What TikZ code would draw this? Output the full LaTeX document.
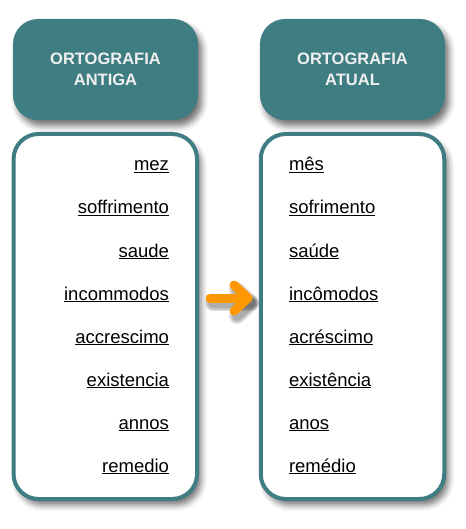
\documentclass[tikz,border=0pt]{standalone}
\usepackage{fontspec}
\setmainfont{Liberation Sans}
\usetikzlibrary{positioning,shadows.blur}
\definecolor{tealbox}{RGB}{62,125,130}
\definecolor{headtext}{RGB}{240,240,240}
\definecolor{arroworange}{RGB}{255,152,0}
\tikzstyle{header} = [rectangle, rounded corners=25pt, fill=tealbox, text=headtext, minimum width=185pt, minimum height=101pt, align=center, font=\fontsize{16.5}{21}\selectfont\bfseries, blur shadow={shadow xshift=4pt, shadow yshift=-6pt, shadow blur radius=6pt, shadow opacity=55}]
\tikzstyle{wordbox} = [rectangle, rounded corners=25pt, draw=tealbox, line width=4pt, fill=white, minimum width=183.5pt, minimum height=365pt, blur shadow={shadow xshift=4pt, shadow yshift=-6pt, shadow blur radius=6pt, shadow opacity=55}]
\tikzstyle{oldword} = [text width=130pt, align=right, inner sep=0pt, text height=14pt, text depth=4pt, font=\fontsize{18.5}{22}\selectfont, node distance=43pt]
\tikzstyle{newword} = [text width=130pt, align=left, inner sep=0pt, text height=14pt, text depth=4pt, font=\fontsize{18.5}{22}\selectfont, node distance=43pt]
\tikzstyle{bigarrow} = [draw, line width=9pt, color=arroworange, line cap=round, line join=round]
\tikzstyle{arrowshade} = [draw, line cap=round, line join=round, color=black, opacity=0.12]

\begin{document}
\begin{tikzpicture}[x=1pt, y=-1pt]
  \useasboundingbox (0,0) rectangle (465,529);

  \node[header] (oldhead) at (105.5,69.5) {ORTOGRAFIA\\ANTIGA};
  \node[header] (newhead) at (352.5,69.5) {ORTOGRAFIA\\ATUAL};

  \node[wordbox] (oldbox) at (105.3,316.5) {};
  \node[wordbox] (newbox) at (352.5,316.5) {};

  % old spelling
  \node[oldword] (old1) at (104,166) {\underline{mez}};
  \node[oldword, below of=old1] (old2) {\underline{soffrimento}};
  \node[oldword, below of=old2] (old3) {\underline{saude}};
  \node[oldword, below of=old3] (old4) {\underline{incommodos}};
  \node[oldword, below of=old4] (old5) {\underline{accrescimo}};
  \node[oldword, below of=old5] (old6) {\underline{existencia}};
  \node[oldword, below of=old6] (old7) {\underline{annos}};
  \node[oldword, below of=old7] (old8) {\underline{remedio}};

  % current spelling
  \node[newword] (new1) at (354,166) {\underline{mês}};
  \node[newword, below of=new1] (new2) {\underline{sofrimento}};
  \node[newword, below of=new2] (new3) {\underline{saúde}};
  \node[newword, below of=new3] (new4) {\underline{incômodos}};
  \node[newword, below of=new4] (new5) {\underline{acréscimo}};
  \node[newword, below of=new5] (new6) {\underline{existência}};
  \node[newword, below of=new6] (new7) {\underline{anos}};
  \node[newword, below of=new7] (new8) {\underline{remédio}};

  \coordinate (arrowtail) at (210,298);
  \coordinate (arrowtip) at (248,298);

  \foreach \w in {16,13,10} {
    \path[arrowshade, line width=\w pt] ([xshift=3pt,yshift=-5pt]arrowtail) -- ([xshift=3pt,yshift=-5pt]arrowtip);
    \path[arrowshade, line width=\w pt] ([xshift=-11pt,yshift=8pt]arrowtip) -- ([xshift=3pt,yshift=-5pt]arrowtip) -- ([xshift=-11pt,yshift=-18pt]arrowtip);
  }
  \path[bigarrow] (arrowtail) -- (arrowtip);
  \path[bigarrow] ([xshift=-14pt,yshift=13pt]arrowtip) -- (arrowtip) -- ([xshift=-14pt,yshift=-13pt]arrowtip);

\end{tikzpicture}
\end{document}
